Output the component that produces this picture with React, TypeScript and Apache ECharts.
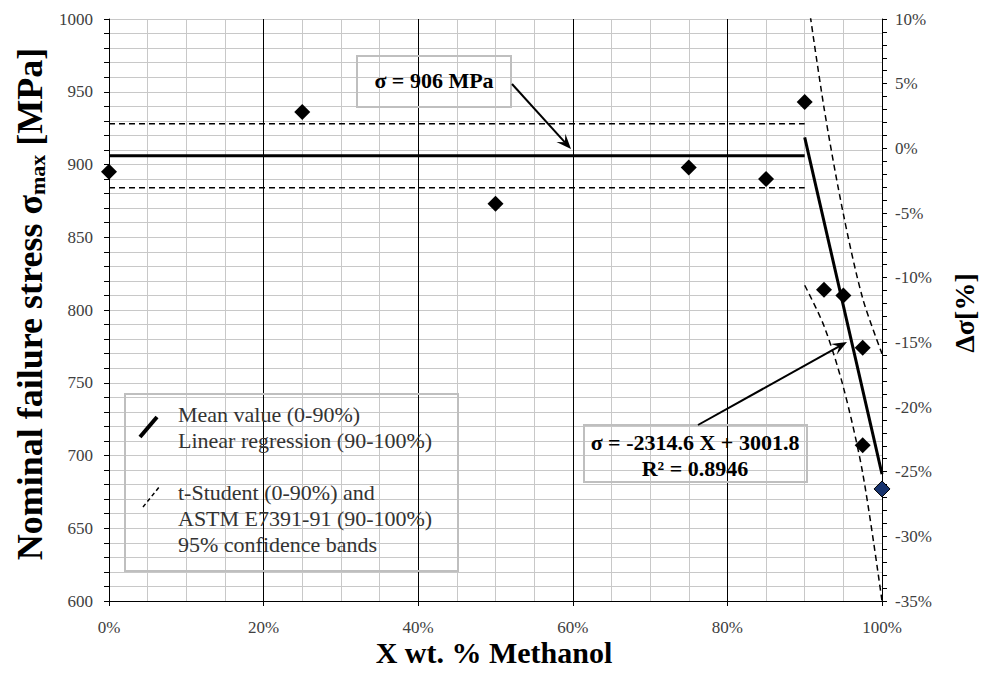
import React, { useEffect, useRef } from "react";
import * as echarts from "echarts";

// ---- data ----
const methanolFraction = [0, 0.25, 0.5, 0.75, 0.85, 0.9, 0.925, 0.95, 0.975, 0.975];
const failureStress = [895, 936, 873, 898, 890, 943, 814, 810, 774, 707];
const lastFraction = [1.0];
const lastStress = [677];
const meanRangeX = [0, 0.9];
const meanStress = [906, 906];
const tStudentUpper = [928, 928];
const tStudentLower = [884, 884];
const regressionX = [0.9, 1.0];
const regressionY = [918.7, 687.2];
const bandX = [0.9, 0.925, 0.95, 0.975, 1.0];
const bandUpper = [1029, 939, 866, 808, 770];
const bandLower = [817, 789, 747, 688, 600];

const SERIF = "Liberation Serif, serif";

function zip(xs: number[], ys: number[]) {
  return xs.map((x, i) => [x, ys[i]]);
}

function arrow(x1: number, y1: number, x2: number, y2: number) {
  const dx = x2 - x1;
  const dy = y2 - y1;
  const len = Math.sqrt(dx * dx + dy * dy);
  const ux = dx / len;
  const uy = dy / len;
  const px = -uy;
  const py = ux;
  const headLen = 15;
  const notch = 9;
  const half = 6;
  const bx = x2 - ux * headLen;
  const by = y2 - uy * headLen;
  const nx = x2 - ux * notch;
  const ny = y2 - uy * notch;
  return [
    {
      type: "line",
      shape: { x1, y1, x2: nx, y2: ny },
      style: { stroke: "#000", lineWidth: 2 },
      z: 20,
    },
    {
      type: "polygon",
      shape: {
        points: [
          [x2, y2],
          [bx + px * half, by + py * half],
          [nx, ny],
          [bx - px * half, by - py * half],
        ],
      },
      style: { fill: "#000" },
      z: 20,
    },
  ];
}

function txt(text: string, x: number, y: number, size: number, bold: boolean, align: string, extra: any = {}) {
  return {
    type: "text",
    x,
    y,
    z: 21,
    ...extra,
    style: {
      text,
      fontFamily: SERIF,
      fontSize: size,
      fontWeight: bold ? "bold" : "normal",
      fill: bold ? "#000" : "#333",
      align,
      verticalAlign: "middle",
    },
  };
}

export default function App() {
  const ref = useRef<HTMLDivElement>(null);

  useEffect(() => {
    if (!ref.current) return;
    const chart = echarts.init(ref.current, undefined, { renderer: "svg" });

    const gridGray = "#c8c8c8";
    const labelColor = "#404040";

    const option: any = {
      animation: false,
      backgroundColor: "#fff",
      grid: { left: 109, right: 100, top: 19, bottom: 72, containLabel: false },
      xAxis: {
        type: "value",
        min: 0,
        max: 1,
        interval: 0.2,
        axisLine: { show: true, onZero: false, lineStyle: { color: "#000", width: 1 } },
        axisTick: { show: true, length: 5, lineStyle: { color: "#000" } },
        minorTick: { show: false, splitNumber: 4 },
        splitLine: { show: true, lineStyle: { color: "#000", width: 1 } },
        minorSplitLine: { show: true, lineStyle: { color: gridGray, width: 1 } },
        axisLabel: {
          formatter: (v: number) => Math.round(v * 100) + "%",
          fontFamily: SERIF,
          fontSize: 17,
          color: labelColor,
          margin: 18,
        },
      },
      yAxis: [
        {
          type: "value",
          min: 600,
          max: 1000,
          interval: 50,
          axisLine: { show: true, onZero: false, lineStyle: { color: "#000", width: 1 } },
          axisTick: { show: true, length: 5, lineStyle: { color: "#000" } },
          minorTick: { show: true, splitNumber: 5, length: 5, lineStyle: { color: "#000" } },
          splitLine: { show: true, lineStyle: { color: gridGray, width: 1 } },
          minorSplitLine: { show: true, lineStyle: { color: gridGray, width: 1 } },
          axisLabel: {
            formatter: (v: number) => String(v),
            fontFamily: SERIF,
            fontSize: 17,
            color: labelColor,
            margin: 16,
          },
        },
        {
          type: "value",
          position: "right",
          min: -35,
          max: 10,
          interval: 5,
          axisLine: { show: true, onZero: false, lineStyle: { color: "#000", width: 1 } },
          axisTick: { show: true, length: 5, lineStyle: { color: "#000" } },
          minorTick: { show: true, splitNumber: 5, length: 5, lineStyle: { color: "#000" } },
          splitLine: { show: false },
          minorSplitLine: { show: false },
          axisLabel: {
            formatter: (v: number) => v + "%",
            fontFamily: SERIF,
            fontSize: 17,
            color: labelColor,
            margin: 13,
          },
        },
      ],
      series: [
        {
          type: "line",
          name: "t-Student upper",
          data: zip(meanRangeX, tStudentUpper),
          symbol: "none",
          lineStyle: { color: "#000", width: 1.5, type: [6, 4] },
          z: 3,
        },
        {
          type: "line",
          name: "t-Student lower",
          data: zip(meanRangeX, tStudentLower),
          symbol: "none",
          lineStyle: { color: "#000", width: 1.5, type: [6, 4] },
          z: 3,
        },
        {
          type: "line",
          name: "Mean",
          data: zip(meanRangeX, meanStress),
          symbol: "none",
          lineStyle: { color: "#000", width: 3 },
          z: 4,
        },
        {
          type: "line",
          name: "Regression",
          data: zip(regressionX, regressionY),
          symbol: "none",
          lineStyle: { color: "#000", width: 3 },
          z: 4,
        },
        {
          type: "line",
          name: "ASTM upper",
          data: zip(bandX, bandUpper),
          symbol: "none",
          smooth: 0.3,
          lineStyle: { color: "#000", width: 1.5, type: [6, 4] },
          z: 3,
        },
        {
          type: "line",
          name: "ASTM lower",
          data: zip(bandX, bandLower),
          symbol: "none",
          smooth: 0.3,
          lineStyle: { color: "#000", width: 1.5, type: [6, 4] },
          z: 3,
        },
        {
          type: "scatter",
          name: "Data",
          data: zip(methanolFraction, failureStress),
          symbol: "diamond",
          symbolSize: [16, 16],
          itemStyle: { color: "#000", opacity: 1 },
          clip: false,
          z: 6,
        },
        {
          type: "scatter",
          name: "Data 100%",
          data: zip(lastFraction, lastStress),
          symbol: "diamond",
          symbolSize: [16, 16],
          itemStyle: { color: "#17336e", borderColor: "#000", borderWidth: 1, opacity: 1 },
          clip: false,
          z: 6,
        },
      ],
      graphic: [
        // axis titles
        {
          type: "text",
          x: 30,
          y: 304,
          rotation: Math.PI / 2,
          z: 30,
          style: {
            text: "{a|Nominal failure stress σ}{b|max}{a| [MPa]}",
            align: "center",
            verticalAlign: "middle",
            rich: {
              a: { fontFamily: SERIF, fontWeight: "bold", fontSize: 36, fill: "#000", color: "#000" },
              b: {
                fontFamily: SERIF,
                fontWeight: "bold",
                fontSize: 22,
                fill: "#000",
                color: "#000",
                padding: [14, 0, 0, 0],
              },
            },
          },
        },
        txt("X wt. % Methanol", 494, 652, 30, true, "center", { z: 30 }),
        txt("Δσ[%]", 964, 313, 28, true, "center", { z: 30, rotation: Math.PI / 2 }),
        // annotation box 1
        {
          type: "rect",
          shape: { x: 357, y: 56, width: 154, height: 51 },
          style: { fill: "none", stroke: "#bfbfbf", lineWidth: 2 },
          z: 20,
        },
        txt("σ = 906 MPa", 434, 80, 22, true, "center"),
        ...arrow(512, 84, 571, 149),
        // annotation box 2
        {
          type: "rect",
          shape: { x: 584, y: 425, width: 223, height: 57 },
          style: { fill: "none", stroke: "#bfbfbf", lineWidth: 2 },
          z: 20,
        },
        txt("σ = -2314.6 X + 3001.8", 695, 442, 22, true, "center"),
        txt("R² = 0.8946", 695, 468, 22, true, "center"),
        ...arrow(698, 425, 847, 342),
        // legend box
        {
          type: "rect",
          shape: { x: 125, y: 394, width: 333, height: 177 },
          style: { fill: "none", stroke: "#bfbfbf", lineWidth: 2 },
          z: 20,
        },
        {
          type: "line",
          shape: { x1: 140, y1: 437, x2: 157, y2: 417 },
          style: { stroke: "#000", lineWidth: 4 },
          z: 21,
        },
        {
          type: "line",
          shape: { x1: 143, y1: 507, x2: 160, y2: 486 },
          style: { stroke: "#000", lineWidth: 1.5, lineDash: [4, 3] },
          z: 21,
        },
        txt("Mean value (0-90%)", 178, 414, 22, false, "left"),
        txt("Linear regression (90-100%)", 178, 440, 22, false, "left"),
        txt("t-Student (0-90%) and", 178, 492, 22, false, "left"),
        txt("ASTM E7391-91 (90-100%)", 178, 518, 22, false, "left"),
        txt("95% confidence bands", 178, 544, 22, false, "left"),
      ],
    };

    chart.setOption(option);
    return () => chart.dispose();
  }, []);

  return (
    <div
      ref={ref}
      style={{ position: "fixed", left: 0, top: 0, width: 982, height: 673, background: "#fff" }}
    />
  );
}
